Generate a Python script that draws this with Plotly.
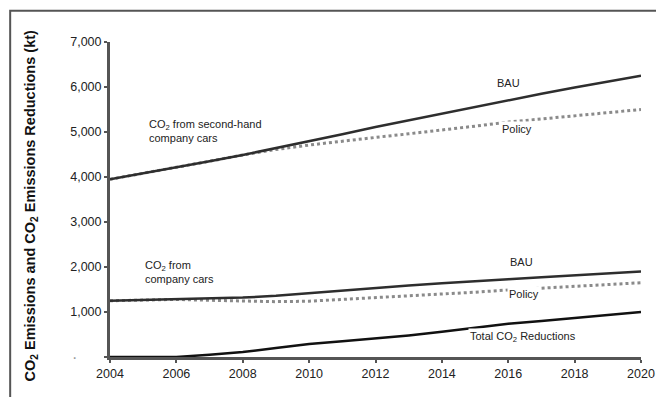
import plotly.graph_objects as go

years = list(range(2004, 2021))
second_hand_bau = [3950, 4080, 4210, 4350, 4490, 4640, 4790, 4950, 5110, 5260, 5410, 5560, 5710, 5850, 5990, 6120, 6250]
second_hand_policy = [3950, 4080, 4210, 4350, 4490, 4610, 4710, 4800, 4880, 4960, 5040, 5130, 5220, 5290, 5370, 5430, 5500]
company_bau = [1250, 1265, 1280, 1300, 1320, 1360, 1420, 1480, 1540, 1590, 1640, 1690, 1730, 1770, 1810, 1850, 1900]
company_policy = [1250, 1265, 1280, 1260, 1240, 1230, 1240, 1280, 1320, 1350, 1390, 1440, 1490, 1530, 1570, 1610, 1650]
total_reductions = [0, 0, 0, 50, 110, 200, 290, 350, 410, 480, 560, 650, 740, 800, 870, 930, 1000]

y_ticks = [0, 1000, 2000, 3000, 4000, 5000, 6000, 7000]
y_ticktext = ["", "1,000", "2,000", "3,000", "4,000", "5,000", "6,000", "7,000"]
x_ticks = [2004, 2006, 2008, 2010, 2012, 2014, 2016, 2018, 2020]

fig = go.Figure()
dark = "#2e2e2e"
grey = "#8a8a8a"
fig.add_trace(go.Scatter(x=years, y=second_hand_policy, mode="lines",
                         line=dict(color=grey, width=3, dash="dot"), hoverinfo="skip"))
fig.add_trace(go.Scatter(x=years, y=second_hand_bau, mode="lines",
                         line=dict(color=dark, width=2.5), hoverinfo="skip"))
fig.add_trace(go.Scatter(x=years, y=company_policy, mode="lines",
                         line=dict(color=grey, width=3, dash="dot"), hoverinfo="skip"))
fig.add_trace(go.Scatter(x=years, y=company_bau, mode="lines",
                         line=dict(color=dark, width=2.5), hoverinfo="skip"))
fig.add_trace(go.Scatter(x=years, y=total_reductions, mode="lines",
                         line=dict(color="#111111", width=2.5), hoverinfo="skip"))

font = dict(family="Liberation Sans, Arial, sans-serif", size=11, color="#222222")

def label(text, x, y, xanchor="center", bg="white"):
    fig.add_annotation(x=x, y=y, text=text, showarrow=False, xanchor=xanchor,
                       yanchor="middle", align="left", font=font, bgcolor=bg)

label("BAU", 2016.0, 6089)
label("Policy", 2016.26, 5067)
label("CO<sub>2</sub> from second-hand<br>company cars", 2005.1, 5022, xanchor="left", bg=None)
label("CO<sub>2</sub> from<br>company cars", 2005.0, 1900, xanchor="left", bg=None)
label("BAU", 2016.41, 2111)
label("Policy", 2016.47, 1400)
label("Total CO<sub>2</sub> Reductions", 2016.44, 444)

# zero tick mark dot
fig.add_annotation(x=-0.075, y=0, xref="paper", yref="y", text="·", showarrow=False,
                   font=dict(family="Liberation Sans, Arial, sans-serif", size=16, color="#999999"))

# y axis title
fig.add_annotation(x=-0.147, y=0.481, xref="paper", yref="paper", textangle=-90,
                   xanchor="center", yanchor="middle",
                   text="<b>CO<sub>2</sub> Emissions and CO<sub>2</sub> Emissions Reductions (kt)</b>",
                   showarrow=False, font=dict(family="Liberation Sans, Arial, sans-serif", size=14.5, color="#111111"))

# outer frame (left and top edges visible)
fig.add_shape(type="rect", xref="paper", yref="paper", x0=-0.188, x1=1.3, y0=-0.3, y1=1.099,
              line=dict(color="#555555", width=2), fillcolor="rgba(0,0,0,0)", layer="above")

fig.update_layout(
    width=656, height=397, autosize=False,
    margin=dict(l=110, r=15, t=42, b=40, pad=0, autoexpand=False),
    paper_bgcolor="white", plot_bgcolor="white",
    showlegend=False,
    xaxis=dict(range=[2004, 2020], tickvals=x_ticks, showgrid=False, zeroline=False, automargin=False,
               showline=True, linecolor="#555555", linewidth=3,
               ticks="outside", ticklen=3, tickwidth=2, tickcolor="#555555",
               tickfont=dict(family="Liberation Sans, Arial, sans-serif", size=12.5, color="#222222")),
    yaxis=dict(range=[0, 7000], tickvals=y_ticks, ticktext=y_ticktext, showgrid=False, zeroline=False,
               automargin=False,
               showline=True, linecolor="#555555", linewidth=3,
               ticks="outside", ticklen=3, tickwidth=2, tickcolor="#555555",
               tickfont=dict(family="Liberation Sans, Arial, sans-serif", size=12.5, color="#222222")),
)

fig.write_html("out.html", config={"displayModeBar": False, "responsive": False},
               post_script="document.body.style.margin='0px';document.body.style.overflow='hidden';")
